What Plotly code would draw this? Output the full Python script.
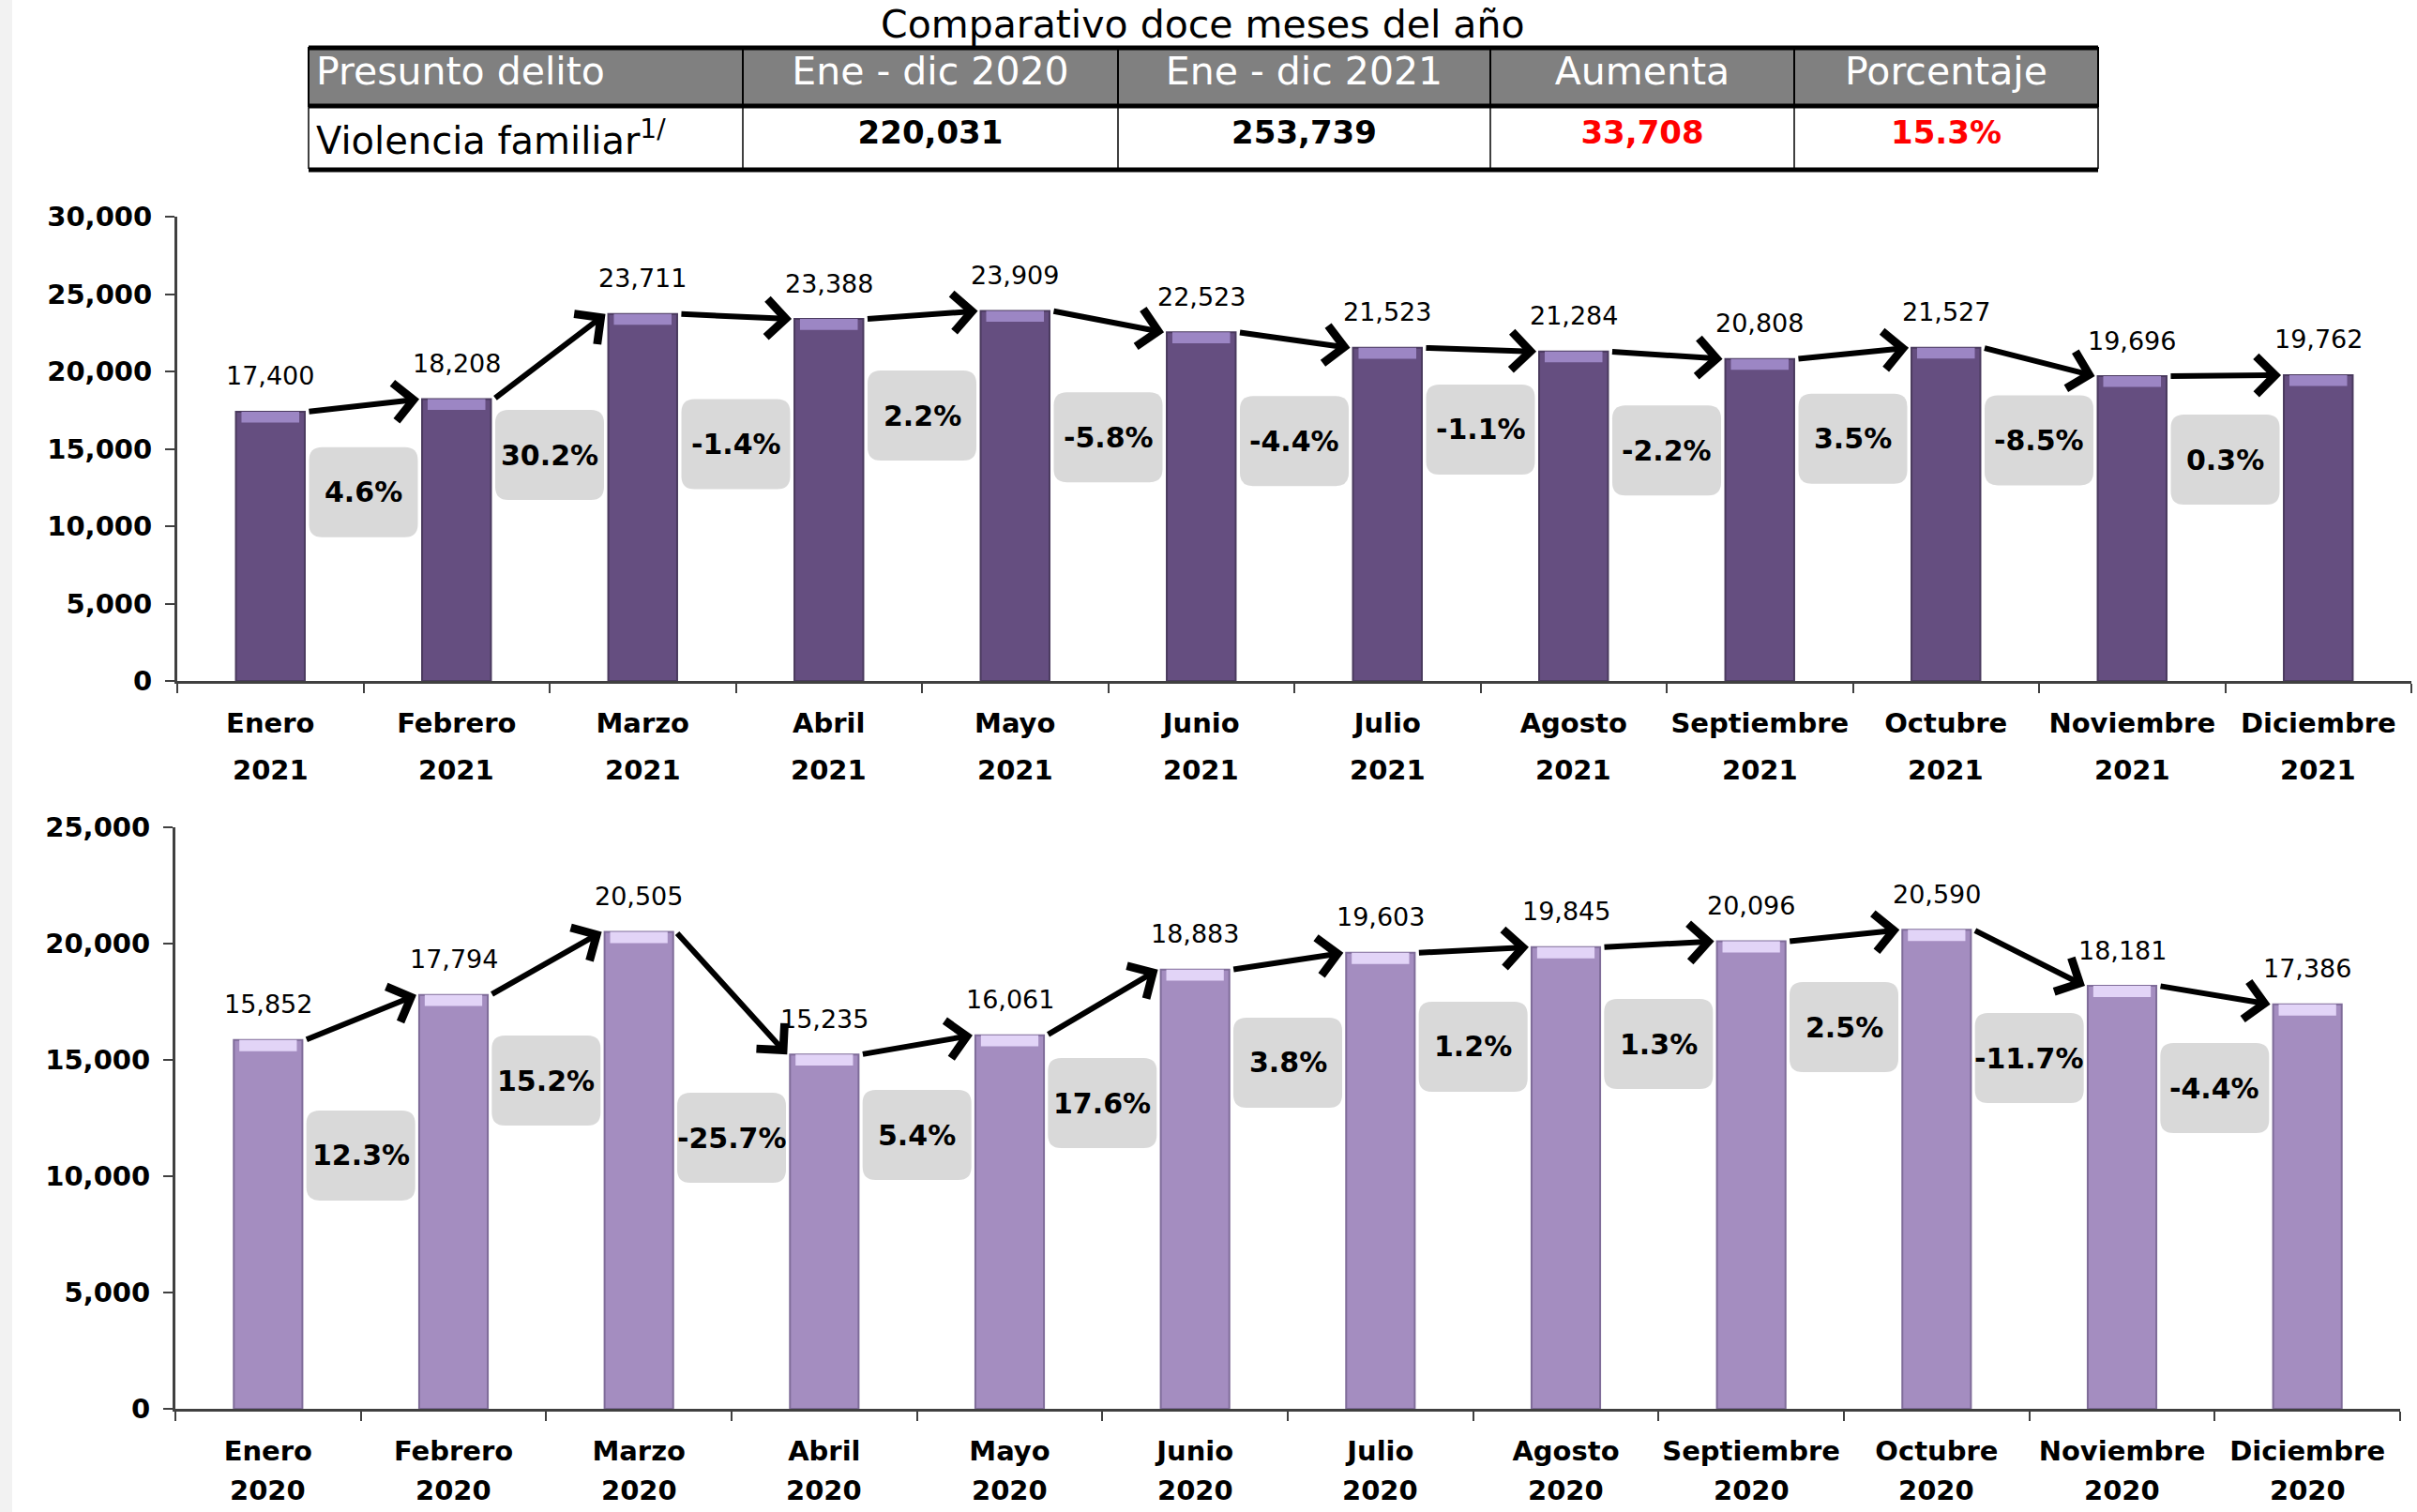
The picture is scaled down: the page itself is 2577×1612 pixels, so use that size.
import plotly.graph_objects as go

# ---------------- data ----------------
meses = ["Enero", "Febrero", "Marzo", "Abril", "Mayo", "Junio", "Julio",
         "Agosto", "Septiembre", "Octubre", "Noviembre", "Diciembre"]
valores_2021 = [17400, 18208, 23711, 23388, 23909, 22523, 21523, 21284, 20808, 21527, 19696, 19762]
valores_2020 = [15852, 17794, 20505, 15235, 16061, 18883, 19603, 19845, 20096, 20590, 18181, 17386]
ticks_2021 = [0, 5000, 10000, 15000, 20000, 25000, 30000]
ticks_2020 = [0, 5000, 10000, 15000, 20000, 25000]
# vertical placement (in axis units) of the grey % change boxes
pos_pct_2021 = [12200, 14600, 15300, 17150, 15750, 15500, 16250, 14900, 15650, 15550, 14300]
pos_pct_2020 = [10890, 14110, 11650, 11770, 13145, 14880, 15565, 15685, 16410, 15080, 13790]

titulo = "Comparativo doce meses del año"
encabezados = ["Presunto delito", "Ene - dic 2020", "Ene - dic 2021", "Aumenta", "Porcentaje"]
delito = "Violencia familiar<sup>1/</sup>"

# ---------------- derived ----------------
total_2020 = sum(valores_2020)
total_2021 = sum(valores_2021)
aumento = total_2021 - total_2020
porcentaje = aumento / total_2020 * 100

W, H = 2577, 1612
F = "DejaVu Sans"
C_TOP = "#654e80"
C_TOP_EDGE = "#4a3a5e"
C_TOP_CAP = "#9c86c4"
C_BOT = "#a48dc0"
C_BOT_EDGE = "#7f6c99"
C_BOT_CAP = "#e2d4f7"
AX = "#404040"

fig = go.Figure()

# ---------------- table ----------------
fig.add_trace(go.Table(
    domain=dict(x=[329 / W, 2237 / W], y=[1 - 181 / H, 1 - 51 / H]),
    columnwidth=[463, 400, 397, 324, 324],
    header=dict(values=encabezados, fill_color="#808080",
                font=dict(family=F, size=41, color="white"),
                align=["left", "center", "center", "center", "center"],
                height=62, line=dict(color="black", width=2)),
    cells=dict(values=[[delito], [f"<b>{total_2020:,}</b>"], [f"<b>{total_2021:,}</b>"],
                       [f"<b>{aumento:,}</b>"], [f"<b>{porcentaje:.1f}%</b>"]],
               fill_color="white",
               font=dict(family=F, size=[40, 34, 34, 34, 34],
                         color=[["black"], ["black"], ["black"], ["#ff0000"], ["#ff0000"]]),
               align=["left", "center", "center", "center", "center"],
               height=68, line=dict(color="#404040", width=2)),
))


def add_panel(vals, pos_pct, xa, ya, color, edge, cap_color, cap_units):
    fig.add_trace(go.Bar(x=meses, y=vals, xaxis=xa, yaxis=ya, width=0.37,
                         marker=dict(color=color, line=dict(color=edge, width=2)),
                         hoverinfo="x+y", showlegend=False))
    fig.add_trace(go.Bar(x=meses, y=[cap_units] * len(vals),
                         base=[v - cap_units for v in vals], xaxis=xa, yaxis=ya, width=0.31,
                         marker=dict(color=cap_color, line=dict(width=0)),
                         hoverinfo="skip", showlegend=False))
    for i, v in enumerate(vals):
        fig.add_annotation(x=i, y=v, xref=xa, yref=ya, text=f"{v:,}", showarrow=False,
                           yanchor="middle", yshift=38,
                           font=dict(family=F, size=27, color="black"))
    for i in range(len(vals) - 1):
        # arrow from top of bar i to top of bar i+1
        fig.add_annotation(x=i + 1 - 0.2, y=vals[i + 1], ax=i + 0.2, ay=vals[i],
                           xref=xa, yref=ya, axref=xa, ayref=ya, text="",
                           showarrow=True, arrowhead=4,
                           arrowsize=1.3, arrowwidth=6, arrowcolor="black",
                           standoff=0, startstandoff=0)
        pct = (vals[i + 1] / vals[i] - 1) * 100
        fig.add_shape(type="path", xref=xa, yref=ya, xsizemode="pixel", ysizemode="pixel",
                      xanchor=i + 0.5, yanchor=pos_pct[i],
                      path="M -44,-48 L 44,-48 Q 58,-48 58,-34 L 58,34 Q 58,48 44,48 "
                           "L -44,48 Q -58,48 -58,34 L -58,-34 Q -58,-48 -44,-48 Z",
                      fillcolor="#d9d9d9", line=dict(width=0), layer="below")
        fig.add_annotation(x=i + 0.5, y=pos_pct[i], xref=xa, yref=ya, text=f"{pct:.1f}%",
                           showarrow=False, font=dict(family=F, size=30, color="black",
                                                      weight="bold"))


add_panel(valores_2021, pos_pct_2021, "x", "y", C_TOP, C_TOP_EDGE, C_TOP_CAP, 700)
add_panel(valores_2020, pos_pct_2020, "x2", "y2", C_BOT, C_BOT_EDGE, C_BOT_CAP, 480)

# year line under month tick labels
for i in range(12):
    fig.add_annotation(x=i, y=0, xref="x", yref="y", text="2021", showarrow=False,
                       yanchor="middle", yshift=-95,
                       font=dict(family=F, size=29, color="black", weight="bold"))
    fig.add_annotation(x=i, y=0, xref="x2", yref="y2", text="2020", showarrow=False,
                       yanchor="middle", yshift=-87,
                       font=dict(family=F, size=29, color="black", weight="bold"))

# title
fig.add_annotation(x=1282 / W, y=1 - 26 / H, xref="paper", yref="paper", text=titulo,
                   showarrow=False, yanchor="middle", xanchor="center",
                   font=dict(family=F, size=41, color="black"))

# thick table rules and spreadsheet margin
for yy in (51, 113, 181):
    fig.add_shape(type="line", xref="paper", yref="paper", x0=329 / W, x1=2237 / W,
                  y0=1 - yy / H, y1=1 - yy / H, line=dict(color="black", width=5), layer="above")
fig.add_shape(type="rect", xref="paper", yref="paper", x0=0, x1=13 / W, y0=0, y1=1,
              fillcolor="#f2f2f2", line=dict(width=0), layer="below")

xcommon = dict(type="category", range=[-0.5, 11.5], tickson="boundaries", ticks="outside",
               ticklen=10, tickwidth=2, tickcolor=AX, showline=True, linecolor=AX,
               linewidth=3, showgrid=False, zeroline=False, fixedrange=True, tickangle=0,
               ticklabelstandoff=17, automargin=False,
               tickfont=dict(family=F, size=29, color="black", weight="bold"))
ycommon = dict(ticks="outside", ticklen=10, tickwidth=2, tickcolor=AX, showline=True,
               linecolor=AX, linewidth=3, showgrid=False, zeroline=False, tickformat=",d",
               tickmode="array", fixedrange=True, ticklabelstandoff=8, automargin=False,
               tickfont=dict(family=F, size=29, color="black", weight="bold"))

fig.update_layout(
    width=W, height=H, autosize=False,
    margin=dict(l=0, r=0, t=0, b=0, pad=0, autoexpand=False),
    paper_bgcolor="white", plot_bgcolor="rgba(0,0,0,0)",
    barmode="overlay", showlegend=False,
    xaxis=dict(domain=[189 / W, 2571 / W], anchor="y", **xcommon),
    yaxis=dict(domain=[1 - 726 / H, 1 - 231 / H], anchor="x", range=[0, 30000],
               tickvals=ticks_2021, **ycommon),
    xaxis2=dict(domain=[187 / W, 2559 / W], anchor="y2", **xcommon),
    yaxis2=dict(domain=[1 - 1502 / H, 1 - 882 / H], anchor="x2", range=[0, 25000],
                tickvals=ticks_2020, **ycommon),
)

post = (
    "document.body.style.margin='0';"
    "document.body.style.overflow='hidden';"
    "var gd=document.getElementById('{plot_id}');"
    "gd.style.position='absolute';gd.style.left='0px';gd.style.top='0px';"
)
fig.write_html("out.html", config={"responsive": False, "displayModeBar": False},
               post_script=post)
